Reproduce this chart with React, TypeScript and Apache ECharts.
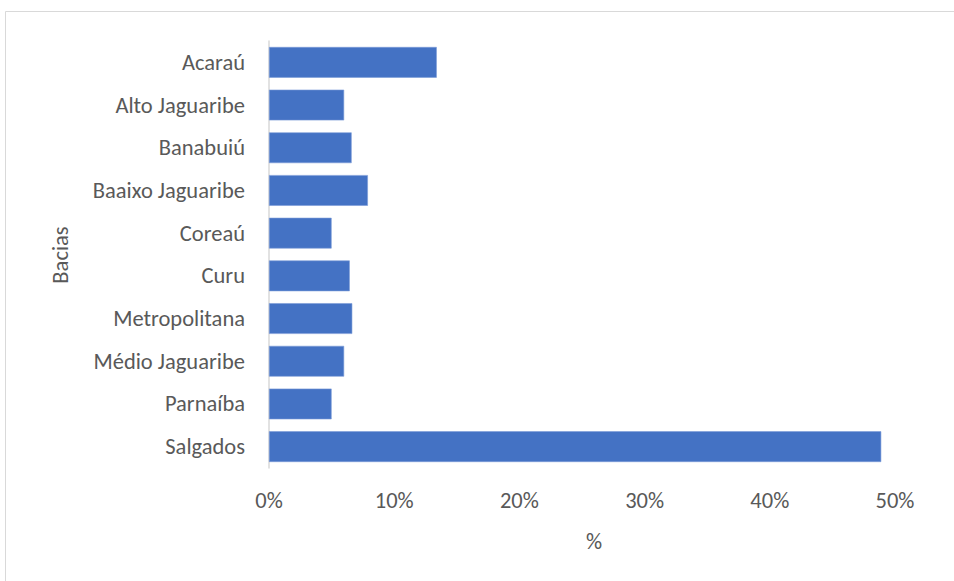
import React, { useEffect, useRef } from "react";
import * as echarts from "echarts";

const categories = [
  "Acaraú",
  "Alto Jaguaribe",
  "Banabuiú",
  "Baaixo Jaguaribe",
  "Coreaú",
  "Curu",
  "Metropolitana",
  "Médio Jaguaribe",
  "Parnaíba",
  "Salgados",
];
const values = [13.4, 6.0, 6.6, 7.9, 5.0, 6.45, 6.65, 6.0, 5.0, 48.9];
const xTicks = { min: 0, max: 50, interval: 10 };
const yAxisTitle = "Bacias";
const xAxisTitle = "%";

const FONT = "Carlito, Lato, 'Liberation Sans', sans-serif";
const TEXT = "#595959";
const FS = 22.5;

export default function App() {
  const ref = useRef<HTMLDivElement>(null);
  useEffect(() => {
    if (!ref.current) return;
    const chart = echarts.init(ref.current, null, { renderer: "svg" });
    chart.setOption({
      animation: false,
      backgroundColor: "#ffffff",
      grid: { left: 269, right: 59, top: 41, bottom: 113, containLabel: false },
      xAxis: {
        type: "value",
        min: xTicks.min,
        max: xTicks.max,
        interval: xTicks.interval,
        axisLine: { show: false },
        axisTick: { show: false },
        splitLine: { show: false },
        axisLabel: {
          formatter: (v: number) => `${v}%`,
          color: TEXT,
          fontFamily: FONT,
          fontSize: FS,
          margin: 21,
        },
      },
      yAxis: {
        type: "category",
        data: categories,
        inverse: true,
        axisLine: { show: true, lineStyle: { color: "#d9d9d9", width: 1.5 } },
        axisTick: { show: false },
        axisLabel: {
          color: TEXT,
          fontFamily: FONT,
          fontSize: FS,
          margin: 24,
        },
      },
      series: [
        {
          type: "bar",
          data: values,
          barCategoryGap: "28%",
          itemStyle: { color: "#4472C4", borderColor: "#7b9bd6", borderWidth: 0.6 },
        },
      ],
      graphic: [
        {
          type: "rect",
          shape: { x: 5.5, y: 11.5, width: 1000, height: 1000 },
          style: { fill: "none", stroke: "#d9d9d9", lineWidth: 1 },
          silent: true,
        },
        {
          type: "text",
          x: 60,
          y: 255,
          rotation: Math.PI / 2,
          style: {
            text: yAxisTitle,
            fill: TEXT,
            font: `${FS}px ${FONT}`,
            textAlign: "center",
            textVerticalAlign: "middle",
          },
        },
        {
          type: "text",
          x: 594,
          y: 541,
          style: {
            text: xAxisTitle,
            fill: TEXT,
            font: `${FS}px ${FONT}`,
            textAlign: "center",
            textVerticalAlign: "middle",
          },
        },
      ],
    });
    return () => chart.dispose();
  }, []);
  return (
    <div
      ref={ref}
      style={{ position: "fixed", left: 0, top: 0, width: 954, height: 581 }}
    />
  );
}
